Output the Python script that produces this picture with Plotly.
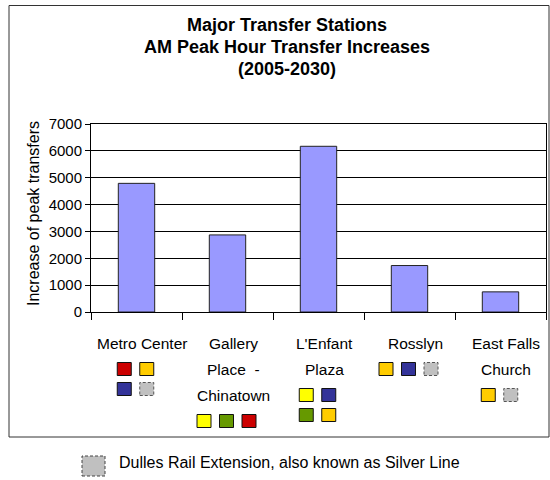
import plotly.graph_objects as go

# --- data -------------------------------------------------------------
stations = ["Metro Center", "Gallery Place - Chinatown", "L'Enfant Plaza",
            "Rosslyn", "East Falls Church"]
station_label_lines = [["Metro Center"],
                       ["Gallery", "Place\u00a0\u00a0-", "Chinatown"],
                       ["L'Enfant", "Plaza"],
                       ["Rosslyn"],
                       ["East Falls", "Church"]]
transfer_increase = [4790, 2870, 6170, 1730, 750]

# Metro lines serving each station, grouped in display rows
station_line_rows = [
    [["red", "orange"], ["blue", "silver"]],
    [["yellow", "green", "red"]],
    [["yellow", "blue"], ["green", "orange"]],
    [["orange", "blue", "silver"]],
    [["orange", "silver"]],
]
line_colors = {"red": "#CC0000", "orange": "#FFCC00", "blue": "#333399",
               "green": "#669900", "yellow": "#FFFF00", "silver": "#C0C0C0"}

title_lines = ["Major Transfer Stations",
               "AM Peak Hour Transfer Increases",
               "(2005-2030)"]
y_title = "Increase of peak transfers"
legend_text = "Dulles Rail Extension, also known as Silver Line"

FONT = "Liberation Sans, Arial, sans-serif"

# --- figure geometry (pixels) ------------------------------------------
W, H = 550, 480
L, R, T, B = 91, 546, 124, 312          # plot area edges
PW, PH = R - L, B - T


def px_x(p):
    return (p - L) / PW


def px_y(p):
    return (B - p) / PH


fig = go.Figure(go.Bar(
    x=stations, y=transfer_increase,
    marker=dict(color="#9999FF", line=dict(color="#222222", width=1)),
    hoverinfo="x+y",
))

shapes = []
annotations = []

# outer frame
shapes.append(dict(type="rect", xref="paper", yref="paper",
                   x0=px_x(9), x1=px_x(549), y0=px_y(437), y1=px_y(5.5),
                   line=dict(color="#333333", width=1), fillcolor="rgba(0,0,0,0)",
                   layer="below"))

# title
for i, (txt, cy) in enumerate(zip(title_lines, [25, 47, 69])):
    annotations.append(dict(text=f"<b>{txt}</b>", xref="paper", yref="paper",
                            x=px_x(287), y=1, yshift=T - cy,
                            xanchor="center", yanchor="middle", showarrow=False,
                            font=dict(family=FONT, size=18, color="black")))

# y-axis title
annotations.append(dict(text=y_title, xref="paper", yref="paper",
                        x=px_x(33), y=px_y(214), textangle=-90,
                        xanchor="center", yanchor="middle", showarrow=False,
                        font=dict(family=FONT, size=16, color="black")))

# category labels and line-colour squares
SQ_W, SQ_H, PITCH_X, PITCH_Y = 14, 13, 22.5, 20
for i, (lines, rows) in enumerate(zip(station_label_lines, station_line_rows)):
    for k, txt in enumerate(lines):
        cy = 343 + 26 * k
        annotations.append(dict(text=txt, xref="x", yref="paper", x=i, y=0,
                                xshift=5.5, yshift=B - cy,
                                xanchor="center", yanchor="middle",
                                showarrow=False,
                                font=dict(family=FONT, size=15.5, color="black")))
    first_row = 343 + 26 * len(lines)
    for r, row in enumerate(rows):
        cy = first_row + PITCH_Y * r
        n = len(row)
        for j, name in enumerate(row):
            cx = -1 + (j - (n - 1) / 2) * PITCH_X
            silver = name == "silver"
            shapes.append(dict(
                type="rect", xref="x", yref="paper",
                xsizemode="pixel", ysizemode="pixel",
                xanchor=i, yanchor=0,
                x0=cx - SQ_W / 2, x1=cx + SQ_W / 2,
                y0=(B - cy) - SQ_H / 2, y1=(B - cy) + SQ_H / 2,
                fillcolor=line_colors[name],
                line=dict(color="#555555" if silver else "#111111", width=1,
                          dash="3px,2px" if silver else "solid"),
            ))

# Silver Line key below the frame
shapes.append(dict(type="rect", xref="paper", yref="paper",
                   x0=px_x(82), x1=px_x(105), y0=px_y(476), y1=px_y(456),
                   fillcolor="#C0C0C0",
                   line=dict(color="#444444", width=1, dash="3px,2px")))
annotations.append(dict(text=legend_text, xref="paper", yref="paper",
                        x=px_x(117), y=px_y(462), xanchor="left",
                        yanchor="middle", showarrow=False,
                        font=dict(family=FONT, size=16, color="black")))

fig.update_layout(
    width=W, height=H,
    margin=dict(l=L, r=W - R, t=T, b=H - B, pad=0),
    paper_bgcolor="white", plot_bgcolor="white",
    showlegend=False, bargap=0.6,
    font=dict(family=FONT, size=15, color="black"),
    shapes=shapes, annotations=annotations,
    xaxis=dict(showticklabels=False, tickson="boundaries", ticks="outside",
               ticklen=7, tickcolor="black", showline=True, linecolor="black",
               linewidth=1, mirror=True, showgrid=False, fixedrange=True),
    yaxis=dict(range=[0, 7000], dtick=1000, ticks="outside", ticklen=5,
               tickcolor="black", showline=True, linecolor="black",
               linewidth=1, mirror=True, showgrid=True, gridcolor="black",
               gridwidth=1, zeroline=False,
               tickfont=dict(family=FONT, size=15, color="black"),
               fixedrange=True),
)

fig.write_html("out.html")
